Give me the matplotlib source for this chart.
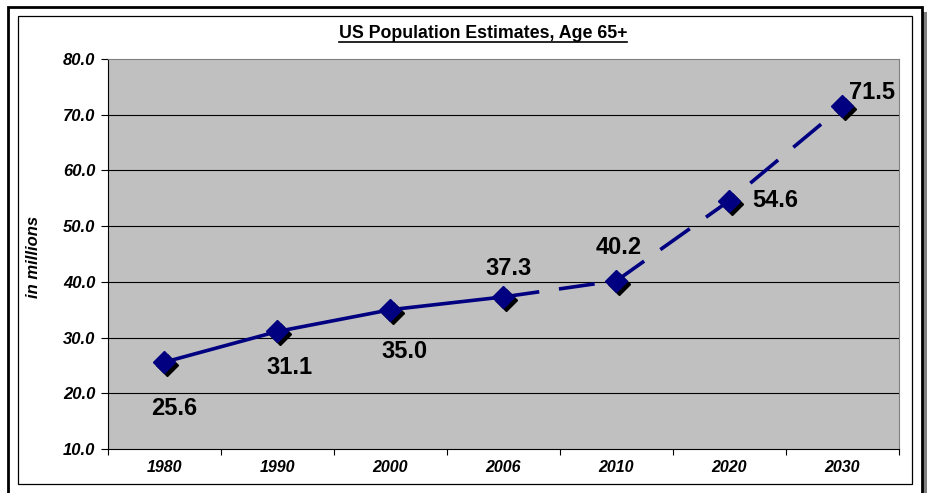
import matplotlib
matplotlib.use("Agg")
import matplotlib.pyplot as plt
import matplotlib.transforms as mtransforms
from matplotlib.patches import Rectangle
from matplotlib.lines import Line2D

plt.rcParams['font.family'] = ['Liberation Sans', 'DejaVu Sans']

years = ['1980', '1990', '2000', '2006', '2010', '2020', '2030']
population = [25.6, 31.1, 35.0, 37.3, 40.2, 54.6, 71.5]
n_actual = 4  # 1980-2006 are estimates drawn solid, the rest projected
yticks = [10.0, 20.0, 30.0, 40.0, 50.0, 60.0, 70.0, 80.0]

# label offsets in pixels (dx, dy) for each point
label_offsets = [(10, -46), (12, -36), (14, -42), (5, 28), (2, 33), (46, 0), (30, 14)]

W, H = 928, 493
fig = plt.figure(figsize=(W / 100, H / 100), dpi=100)
fig.patch.set_facecolor('white')

def fx(px):
    return px / W

def fy(py):
    return 1 - py / H

# frame with drop shadow
fig.add_artist(Rectangle((fx(923.5), 0), fx(5), fy(12),
                         transform=fig.transFigure, facecolor='#808080', edgecolor='none'))
fig.add_artist(Rectangle((fx(8.5), fy(500)), fx(922 - 8.5), fy(7.5) - fy(500),
                         transform=fig.transFigure, facecolor='none', edgecolor='black', lw=2))
fig.add_artist(Rectangle((fx(18), fy(483.5)), fx(912.5 - 18), fy(16) - fy(483.5),
                         transform=fig.transFigure, facecolor='none', edgecolor='black', lw=0.9))

left, right, top, bottom = 108, 899, 59, 449
ax = fig.add_axes([fx(left), fy(bottom), fx(right - left), fy(top) - fy(bottom)])
ax.set_facecolor('#C0C0C0')

x = list(range(len(years)))
ax.set_xlim(-0.5, len(years) - 0.5)
ax.set_ylim(10, 80)

for y in yticks[1:-1]:
    ax.axhline(y, color='black', lw=0.8, zorder=1)

navy = '#000080'
ax.plot(x[:n_actual], population[:n_actual], color=navy, lw=2.6, zorder=3,
        solid_capstyle='butt')
ax.plot(x[n_actual - 1:], population[n_actual - 1:], color=navy, lw=2.6, zorder=3,
        dashes=(10, 5.5), dash_capstyle='butt')

shadow = mtransforms.offset_copy(ax.transData, fig=fig, x=3, y=-3, units='dots')
ax.plot(x, population, ls='none', marker='D', ms=11, color='black', transform=shadow, zorder=4)
ax.plot(x, population, ls='none', marker='D', ms=11, color=navy, zorder=5)

for xi, val, (dx, dy) in zip(x, population, label_offsets):
    ax.annotate(f'{val:.1f}', (xi, val), xytext=(dx, dy), textcoords='offset pixels',
                ha='center', va='center', fontsize=17, fontweight='bold', zorder=6)

ax.set_yticks(yticks)
ax.set_yticklabels([f'{v:.1f}' for v in yticks], fontsize=12, fontweight='bold', style='italic')
ax.set_xticks(x)
ax.set_xticklabels(years, fontsize=11.5, fontweight='bold', style='italic')
ax.set_xticks([i - 0.5 for i in range(len(years) + 1)], minor=True)
ax.tick_params(axis='x', which='major', length=0, pad=8)
ax.tick_params(axis='x', which='minor', length=4, width=0.8, direction='out')
ax.tick_params(axis='y', length=5, width=0.8, direction='out', pad=4)

for side in ('top', 'right'):
    ax.spines[side].set_color('#808080')
    ax.spines[side].set_linewidth(0.8)
for side in ('left', 'bottom'):
    ax.spines[side].set_color('black')
    ax.spines[side].set_linewidth(0.8)

fig.text(fx(33), fy(257), 'in millions', rotation=90, ha='center', va='center',
         fontsize=12, fontweight='bold', style='italic')

title = fig.text(fx(483), fy(33), 'US Population Estimates, Age 65+', ha='center', va='center',
                 fontsize=12.8, fontweight='bold')

# underline the title
fig.canvas.draw()
bb = title.get_window_extent()
uy = (bb.y0 - 0.5) / H
fig.add_artist(Line2D([bb.x0 / W, bb.x1 / W], [uy, uy], transform=fig.transFigure,
                      color='black', lw=1.2))

fig.savefig('out.png', dpi=100)
